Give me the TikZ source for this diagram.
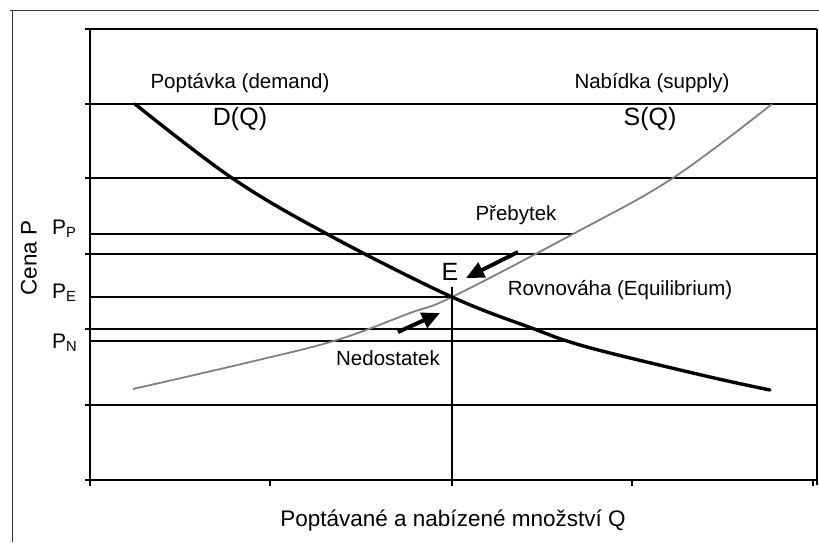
\documentclass[tikz,border=0pt]{standalone}
\usepackage{fontspec}
\setmainfont{Liberation Sans}
\usetikzlibrary{arrows.meta}
\begin{document}
\begin{tikzpicture}[x=1pt,y=-1pt,
  grid/.style={line width=1.3pt,black},
  frame/.style={line width=1pt,black!80},
  level/.style={line width=2pt,black},
  demand/.style={line width=3.4pt,black,line cap=round},
  supply/.style={line width=1.8pt,black!50},
  mover/.style={line width=4pt,-{Triangle[length=18pt,width=16pt]}},
  lbl/.style={font=\fontsize{20.5}{24}\selectfont,inner sep=0pt},
  big/.style={font=\fontsize{25}{29}\selectfont,inner sep=0pt},
  plbl/.style={font=\fontsize{21}{24}\selectfont,inner sep=0pt},
  axl/.style={font=\fontsize{22.5}{26}\selectfont,inner sep=0pt}]
\useasboundingbox (0,0) rectangle (819,542);
% outer frame
\draw[frame] (10,10) -- (819,10);
\draw[frame] (12,10) -- (12,542);
% plot frame and grid
\foreach \yy in {29,104,178,254,329,405,480}{
  \draw[grid] (90,\yy) -- (817,\yy);
  \draw[grid] (85,\yy) -- (90,\yy);
}
\draw[grid] (90,29) -- (90,485);
\draw[grid] (817,29) -- (817,485);
\foreach \xx in {90,270,452,632,813}{
  \draw[grid] (\xx,480) -- (\xx,486);
}
% coordinates
\coordinate (E) at (452,297);
\coordinate (pp0) at (90,234);
\coordinate (pp1) at (573,234);
\coordinate (pe0) at (90,297);
\coordinate (pn0) at (90,341);
\coordinate (pn1) at (567,341);
\coordinate (v0) at (452,287);
\coordinate (v1) at (452,485);
% price levels
\draw[level] (pp0) -- (pp1);
\draw[line width=2.6pt] (pe0) -- (E);
\draw[level] (pn0) -- (pn1);
\draw[level] (v0) -- (v1);
% supply curve
\draw[supply] plot[smooth,tension=0.6] coordinates {(133,389) (250,362) (337,340) (410,313) (452,297) (573,234) (673,178) (772,104)};
% demand curve
\draw[demand] plot[smooth,tension=0.6] coordinates {(135,104) (232,178) (327,234) (452,297) (537,330) (567,341) (610,353) (710,377) (770,390)};
% arrows
\coordinate (a1s) at (518,252);
\coordinate (a1e) at (466,278);
\coordinate (a2s) at (398,332);
\coordinate (a2e) at (440,313);
\draw[mover] (a1s) -- (a1e);
\draw[mover] (a2s) -- (a2e);
% labels
\node[lbl] (dem) at (240,83) {Poptávka (demand)};
\node[big] (dq) at (240,119) {D(Q)};
\node[lbl] (sup) at (652,83) {Nabídka (supply)};
\node[big] (sq) at (650,119) {S(Q)};
\node[lbl] (preb) at (516,215) {Přebytek};
\node[big] (elbl) at (450,272) {E};
\node[lbl] (rov) at (620,290) {Rovnováha (Equilibrium)};
\node[lbl] (ned) at (388,358) {Nedostatek};
\node[plbl,anchor=west] (pp) at (52,229) {P\textsubscript{P}};
\node[plbl,anchor=west] (pe) at (52,293) {P\textsubscript{E}};
\node[plbl,anchor=west] (pn) at (52,343) {P\textsubscript{N}};
\node[axl,rotate=90] (cena) at (29,258) {Cena P};
\node[axl] (qlbl) at (453,521) {Poptávané a nabízené množství Q};
\end{tikzpicture}
\end{document}
